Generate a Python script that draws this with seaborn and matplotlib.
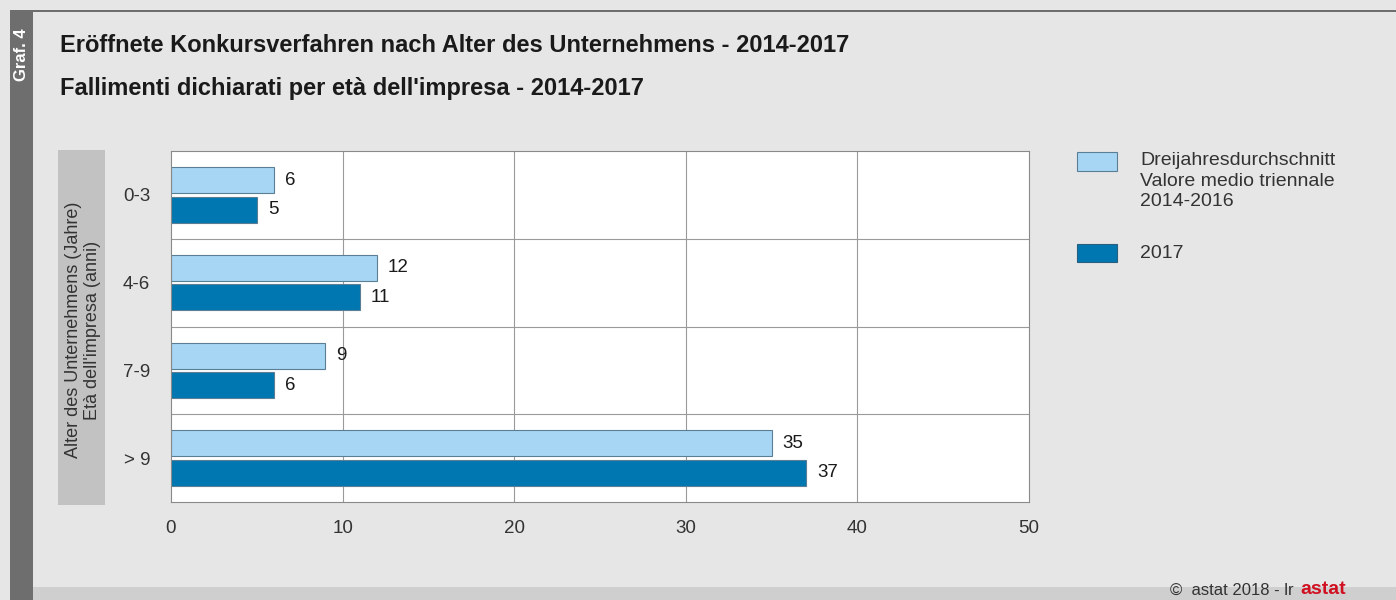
import pandas as pd
import matplotlib.pyplot as plt
import seaborn as sns
from matplotlib.patches import Rectangle

# data
categories = ['0-3', '4-6', '7-9', '> 9']
avg_2014_2016 = [6, 12, 9, 35]
year_2017 = [5, 11, 6, 37]
series_names = ['Dreijahresdurchschnitt\nValore medio triennale\n2014-2016', '2017']

df = pd.DataFrame({
    'Alter': categories * 2,
    'Wert': avg_2014_2016 + year_2017,
    'Serie': [series_names[0]] * 4 + [series_names[1]] * 4,
})

sns.set_style("white")
plt.rcParams['font.family'] = ['Liberation Sans', 'DejaVu Sans']

bg = '#e6e6e6'
fig = plt.figure(figsize=(13.96, 6), dpi=100)
fig.patch.set_facecolor(bg)

# frame decorations: left strip, top line, bottom strip
fig.add_artist(Rectangle((10 / 1396, 0), 23 / 1396, 1 - 10 / 600, transform=fig.transFigure,
                         facecolor='#6e6e6e', edgecolor='none'))
fig.add_artist(Rectangle((10 / 1396, 1 - 12 / 600), 1 - 10 / 1396, 2 / 600, transform=fig.transFigure,
                         facecolor='#6e6e6e', edgecolor='none'))
fig.add_artist(Rectangle((33 / 1396, 0), 1, 13 / 600, transform=fig.transFigure,
                         facecolor='#cfcfcf', edgecolor='none'))
fig.text(21.5 / 1396, 1 - 55 / 600, 'Graf. 4', rotation=90, color='white', fontsize=12,
         fontweight='bold', ha='center', va='center')

fig.text(60 / 1396, 1 - 45 / 600, 'Eröffnete Konkursverfahren nach Alter des Unternehmens - 2014-2017',
         fontsize=17, fontweight='bold', color='#1a1a1a', va='center')
fig.text(60 / 1396, 1 - 88 / 600, "Fallimenti dichiarati per età dell'impresa - 2014-2017",
         fontsize=17, fontweight='bold', color='#1a1a1a', va='center')

ax = fig.add_axes([171 / 1396, 1 - 502 / 600, 858 / 1396, 351 / 600])
ax.set_facecolor('white')

palette = {series_names[0]: '#a6d6f4', series_names[1]: '#0077b0'}
sns.barplot(data=df, y='Alter', x='Wert', hue='Serie', order=categories, palette=palette,
            width=0.67, gap=0.12, orient='h', ax=ax, legend=False,
            edgecolor='#5a7f95', linewidth=0.8, saturation=1)

for cont in ax.containers:
    ax.bar_label(cont, padding=8, fontsize=13.5, color='#1a1a1a')

ax.set_xlim(0, 50)
ax.set_ylim(3.5, -0.5)
ax.set_xticks([0, 10, 20, 30, 40, 50])
for x in [10, 20, 30, 40]:
    ax.axvline(x, color='#9a9a9a', linewidth=0.8, zorder=0)
for y in [0.5, 1.5, 2.5]:
    ax.axhline(y, color='#9a9a9a', linewidth=0.8, zorder=0)
for s in ax.spines.values():
    s.set_color('#8a8a8a')
    s.set_linewidth(0.8)
ax.tick_params(axis='both', length=0, labelsize=13.5, colors='#333333')
ax.tick_params(axis='x', pad=13)
ax.tick_params(axis='y', pad=15)
ax.set_xlabel('')
ax.set_ylabel('')

# y axis title in gray box
fig.add_artist(Rectangle((58 / 1396, 1 - 505 / 600), 47 / 1396, 355 / 600, transform=fig.transFigure,
                         facecolor='#c2c2c2', edgecolor='none'))
fig.text(83 / 1396, 1 - 330 / 600, "Alter des Unternehmens (Jahre)\nEtà dell'impresa (anni)",
         rotation=90, ha='center', va='center', fontsize=13, color='#333333', linespacing=1.2,
         multialignment='center')

# legend
fig.add_artist(Rectangle((1077 / 1396, 1 - 171 / 600), 40 / 1396, 19 / 600, transform=fig.transFigure,
                         facecolor='#a6d6f4', edgecolor='#5a7f95', linewidth=0.8))
fig.text(1140 / 1396, 1 - 181 / 600, series_names[0], fontsize=14, color='#333333', va='center',
         linespacing=1.25)
fig.text(1140 / 1396, 1 - 253 / 600, series_names[1], fontsize=14, color='#333333', va='center')
fig.add_artist(Rectangle((1077 / 1396, 1 - 262 / 600), 40 / 1396, 18 / 600, transform=fig.transFigure,
                         facecolor='#0077b0', edgecolor='#2a5f7f', linewidth=0.8))

# footer
fig.text(1170 / 1396, 1 - 590 / 600, '©  astat 2018 - lr', fontsize=12, color='#333333', va='center')
fig.text(1300 / 1396, 1 - 589 / 600, 'astat', fontsize=14, color='#d01020', fontweight='bold', va='center')

fig.savefig('out.png', dpi=100, facecolor=bg)
